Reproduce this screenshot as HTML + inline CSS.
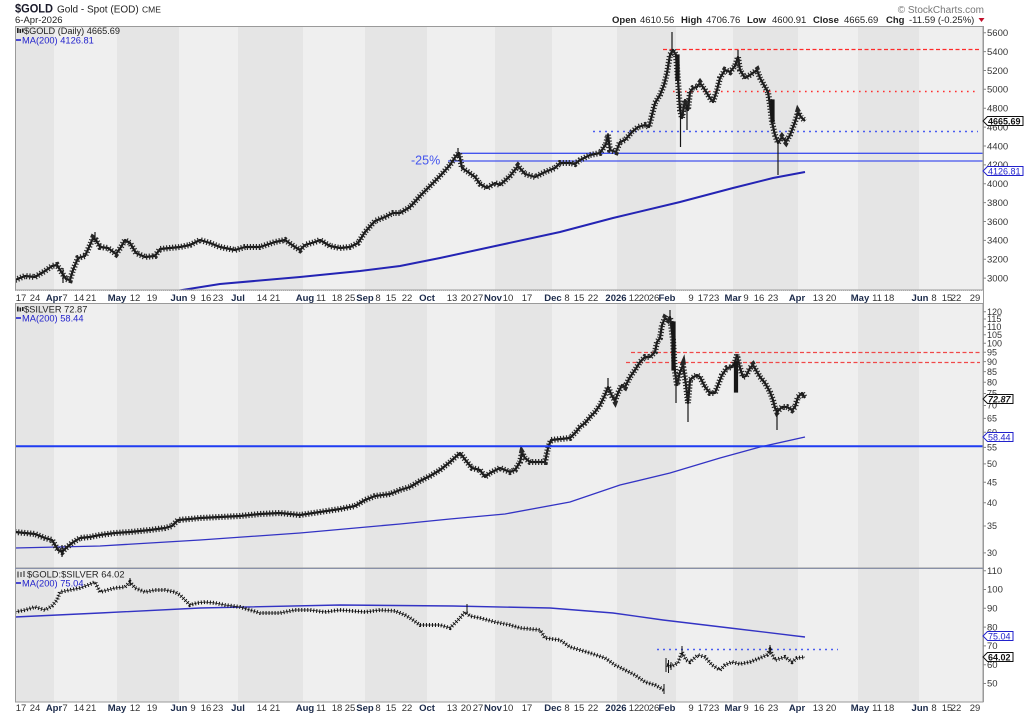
<!DOCTYPE html>
<html><head><meta charset="utf-8">
<style>
html,body{margin:0;padding:0;background:#fff;}
svg{display:block;font-family:"Liberation Sans",Arial,sans-serif;}
.ax{font-size:9.5px;fill:#333;}
.dt{font-size:9.5px;fill:#333;text-anchor:middle;}
.dt .b{font-weight:bold;fill:#1c2b4b;}
.core{fill:none;stroke:#161616;stroke-width:2.2;stroke-linejoin:round;}
.tex{fill:none;stroke:#262626;stroke-width:6;stroke-dasharray:1.2 1.8;}
.rcore{fill:none;stroke:#222;stroke-width:0.7;}
.rtex{fill:none;stroke:#111;stroke-width:4;stroke-dasharray:1 2;}
.wk{stroke:#161616;stroke-width:1.2;}
</style></head>
<body>
<svg width="1024" height="716" viewBox="0 0 1024 716" xmlns="http://www.w3.org/2000/svg">
<defs>
<g id="bands">
<rect x="15" y="0" width="39" height="1" fill="#e5e5e5"/>
<rect x="117" y="0" width="62" height="1" fill="#e5e5e5"/>
<rect x="238" y="0" width="65" height="1" fill="#e5e5e5"/>
<rect x="365" y="0" width="62" height="1" fill="#e5e5e5"/>
<rect x="495" y="0" width="57" height="1" fill="#e5e5e5"/>
<rect x="617" y="0" width="59" height="1" fill="#e5e5e5"/>
<rect x="733" y="0" width="65" height="1" fill="#e5e5e5"/>
<rect x="858" y="0" width="61" height="1" fill="#e5e5e5"/>
</g>
<clipPath id="cg"><rect x="15" y="26" width="968" height="264"/></clipPath>
<clipPath id="cs"><rect x="15" y="303" width="968" height="265"/></clipPath>
<clipPath id="cr"><rect x="15" y="568" width="968" height="134"/></clipPath>
<g id="dates" class="dt">
<text x="21">17</text><text x="35">24</text><text x="54" class="b">Apr</text><text x="65">7</text><text x="79">14</text><text x="91">21</text>
<text x="117" class="b">May</text><text x="135">12</text><text x="152">19</text>
<text x="179" class="b">Jun</text><text x="193">9</text><text x="206">16</text><text x="218">23</text>
<text x="238" class="b">Jul</text><text x="262">14</text><text x="275">21</text>
<text x="305" class="b">Aug</text><text x="321">11</text><text x="337">18</text><text x="350">25</text>
<text x="365" class="b">Sep</text><text x="378">8</text><text x="391">15</text><text x="407">22</text>
<text x="427" class="b">Oct</text><text x="452">13</text><text x="466">20</text><text x="478">27</text>
<text x="493" class="b">Nov</text><text x="508">10</text><text x="527">17</text>
<text x="553" class="b">Dec</text><text x="567">8</text><text x="579">15</text><text x="593">22</text>
<text x="616" class="b">2026</text><text x="634">12</text><text x="644">20</text><text x="654">26</text>
<text x="667" class="b">Feb</text><text x="691">9</text><text x="703">17</text><text x="714">23</text>
<text x="733" class="b">Mar</text><text x="746">9</text><text x="759">16</text><text x="773">23</text>
<text x="797" class="b">Apr</text><text x="818">13</text><text x="831">20</text>
<text x="860" class="b">May</text><text x="877">11</text><text x="889">18</text>
<text x="920" class="b">Jun</text><text x="934">8</text><text x="947">15</text><text x="956">22</text><text x="975">29</text>
</g>
</defs>

<rect width="1024" height="716" fill="#fff"/>

<!-- Header -->
<text x="15" y="12.5" font-size="12" font-weight="bold" fill="#1a1a2a" textLength="38" lengthAdjust="spacingAndGlyphs">$GOLD</text>
<text x="57" y="12.5" font-size="10" fill="#222">Gold - Spot (EOD)</text>
<text x="142" y="12.5" font-size="8.5" fill="#222">CME</text>
<text x="15" y="23" font-size="9.5" fill="#222">6-Apr-2026</text>
<text x="984" y="13" font-size="10" fill="#777" text-anchor="end">© StockCharts.com</text>
<g font-size="9.5" fill="#222">
<text x="612" y="23" font-weight="bold">Open</text><text x="640" y="23">4610.56</text>
<text x="681" y="23" font-weight="bold">High</text><text x="706" y="23">4706.76</text>
<text x="747" y="23" font-weight="bold">Low</text><text x="772" y="23">4600.91</text>
<text x="813" y="23" font-weight="bold">Close</text><text x="844" y="23">4665.69</text>
<text x="886" y="23" font-weight="bold">Chg</text><text x="909" y="23">-11.59 (-0.25%)</text>
</g>
<polygon points="978.5,18 984.5,18 981.5,22" fill="#c0102a"/>

<!-- Panels background -->
<rect x="15" y="26" width="968" height="264" fill="#efefef"/>
<use href="#bands" transform="translate(0,26) scale(1,264)"/>
<rect x="15" y="303" width="968" height="265" fill="#efefef"/>
<use href="#bands" transform="translate(0,303) scale(1,265)"/>
<rect x="15" y="568" width="968" height="134" fill="#efefef"/>
<use href="#bands" transform="translate(0,568) scale(1,134)"/>

<!-- Gold panel -->
<g clip-path="url(#cg)">
<line x1="663" y1="49.5" x2="980" y2="49.5" stroke="#ff2a2a" stroke-width="1.2" stroke-dasharray="4,2.5"/>
<line x1="673" y1="91.5" x2="978" y2="91.5" stroke="#ff3030" stroke-width="1.4" stroke-dasharray="1.6,4.4"/>
<line x1="593" y1="131.5" x2="978" y2="131.5" stroke="#4a5cf0" stroke-width="1.6" stroke-dasharray="2,4"/>
<line x1="457" y1="153.3" x2="983" y2="153.3" stroke="#4455ee" stroke-width="1.3"/>
<line x1="448" y1="161" x2="983" y2="161" stroke="#4455ee" stroke-width="1.3"/>
<polyline fill="none" stroke="#2424b4" stroke-width="2" points="150,294 176,291 220,284 300,277 360,271 400,266 440,258 500,245 560,232 613,218 680,202 733,188 773,178 805,172"/>
<polyline class="core" points="15,280 25,276 35,277 45,271 52,266 57,265 62,273 66,279 70,280 73,270 78,258 85,256 90,245 93,238 96,240 100,247 108,248 116,254 121,247 125,240 130,243 136,253 145,257 155,256 160,249 170,248 180,247 190,245 200,240 210,243 220,247 235,250 245,247 260,247 275,242 285,240 295,247 300,250 305,245 315,242 320,240 330,246 340,248 350,247 358,243 365,232 375,221 385,217 393,213 400,213 410,207 420,196 430,186 440,176 450,165 456,156 459,153 462,168 468,172 475,177 480,184 487,188 495,183 500,185 510,176 518,166 525,174 535,177 545,172 555,168 560,163 570,163 575,164 580,160 590,155 600,153 606,144 608,135 610,150 616,152 620,142 625,140 632,132 638,127 645,125 649,127 652,115 655,103 660,95 664,85 667,73 670,55 673,50 676,55 678,80 680,110 682,118 685,100 688,110 690,92 693,88 697,87 700,83 705,90 710,98 713,102 717,90 720,78 725,70 730,72 735,66 738,57 740,70 745,78 750,75 757,70 760,78 765,87 768,92 770,105 772,122 775,135 778,143 782,137 786,142 790,135 795,122 798,112 801,117 805,121"/>
<polyline class="tex" points="15,280 25,276 35,277 45,271 52,266 57,265 62,273 66,279 70,280 73,270 78,258 85,256 90,245 93,238 96,240 100,247 108,248 116,254 121,247 125,240 130,243 136,253 145,257 155,256 160,249 170,248 180,247 190,245 200,240 210,243 220,247 235,250 245,247 260,247 275,242 285,240 295,247 300,250 305,245 315,242 320,240 330,246 340,248 350,247 358,243 365,232 375,221 385,217 393,213 400,213 410,207 420,196 430,186 440,176 450,165 456,156 459,153 462,168 468,172 475,177 480,184 487,188 495,183 500,185 510,176 518,166 525,174 535,177 545,172 555,168 560,163 570,163 575,164 580,160 590,155 600,153 606,144 608,135 610,150 616,152 620,142 625,140 632,132 638,127 645,125 649,127 652,115 655,103 660,95 664,85 667,73 670,55 673,50 676,55 678,80 680,110 682,118 685,100 688,110 690,92 693,88 697,87 700,83 705,90 710,98 713,102 717,90 720,78 725,70 730,72 735,66 738,57 740,70 745,78 750,75 757,70 760,78 765,87 768,92 770,105 772,122 775,135 778,143 782,137 786,142 790,135 795,122 798,112 801,117 805,121"/>
<g class="wk">
<line x1="672" y1="32" x2="672" y2="55"/><line x1="680.5" y1="105" x2="680.5" y2="147"/><line x1="687" y1="105" x2="687" y2="130"/>
<line x1="778" y1="140" x2="778" y2="175"/><line x1="95" y1="232" x2="95" y2="242"/><line x1="458" y1="148" x2="458" y2="158"/>
<line x1="608" y1="133" x2="608" y2="142"/><line x1="738" y1="50" x2="738" y2="60"/><line x1="63" y1="268" x2="63" y2="283"/>
<rect x="676" y="55" width="3" height="25" fill="#161616"/><rect x="771" y="100" width="3" height="22" fill="#161616"/>
</g>
</g>
<text x="411" y="164.5" font-size="12.5" fill="#4455ee">-25%</text>

<!-- Silver panel -->
<g clip-path="url(#cs)">
<line x1="631" y1="352.5" x2="980" y2="352.5" stroke="#f04848" stroke-width="1.2" stroke-dasharray="4,2.5"/>
<line x1="626" y1="362.5" x2="980" y2="362.5" stroke="#f04848" stroke-width="1.2" stroke-dasharray="4,2.5"/>
<polyline fill="none" stroke="#3333c4" stroke-width="1.3" points="15,548 100,546 200,540 300,533 400,524 450,519 505,514 570,502 620,485 670,473 720,458 760,447 805,437"/>
<polyline class="core" points="15,532 25,533 35,534 45,538 52,540 58,550 62,552 66,548 72,543 80,538 90,537 100,535 115,533 130,532 150,530 165,528 172,526 178,520 190,519 200,518 220,517 240,516 260,514 280,513 300,515 320,512 340,509 355,506 365,500 375,496 390,494 400,490 410,487 420,481 430,476 440,470 450,462 460,453 467,462 472,468 480,470 485,477 490,473 500,468 510,472 515,470 520,462 522,453 525,458 530,462 545,462 548,448 551,440 570,438 575,433 580,427 585,423 590,417 595,412 600,405 605,395 608,387 612,396 615,401 618,393 622,385 625,387 630,377 635,370 640,362 645,357 650,357 655,352 657,342 660,338 662,325 665,318 668,320 670,317 673,340 675,372 677,385 680,372 683,365 686,385 688,403 690,380 692,378 697,375 700,377 705,387 710,393 715,393 718,385 722,375 727,368 732,367 735,362 737,355 740,368 743,377 746,376 750,368 753,365 757,372 760,377 765,383 770,392 773,400 775,408 777,412 782,407 787,407 792,410 795,407 798,397 802,393 805,398"/>
<polyline class="tex" points="15,532 25,533 35,534 45,538 52,540 58,550 62,552 66,548 72,543 80,538 90,537 100,535 115,533 130,532 150,530 165,528 172,526 178,520 190,519 200,518 220,517 240,516 260,514 280,513 300,515 320,512 340,509 355,506 365,500 375,496 390,494 400,490 410,487 420,481 430,476 440,470 450,462 460,453 467,462 472,468 480,470 485,477 490,473 500,468 510,472 515,470 520,462 522,453 525,458 530,462 545,462 548,448 551,440 570,438 575,433 580,427 585,423 590,417 595,412 600,405 605,395 608,387 612,396 615,401 618,393 622,385 625,387 630,377 635,370 640,362 645,357 650,357 655,352 657,342 660,338 662,325 665,318 668,320 670,317 673,340 675,372 677,385 680,372 683,365 686,385 688,403 690,380 692,378 697,375 700,377 705,387 710,393 715,393 718,385 722,375 727,368 732,367 735,362 737,355 740,368 743,377 746,376 750,368 753,365 757,372 760,377 765,383 770,392 773,400 775,408 777,412 782,407 787,407 792,410 795,407 798,397 802,393 805,398"/>
<g class="wk">
<line x1="670" y1="310" x2="670" y2="320"/><line x1="676" y1="380" x2="676" y2="403"/><line x1="688" y1="398" x2="688" y2="422"/>
<line x1="777" y1="408" x2="777" y2="430"/><line x1="608" y1="378" x2="608" y2="390"/><line x1="62" y1="545" x2="62" y2="557"/>
<rect x="672" y="322" width="3" height="48" fill="#161616"/><rect x="734.5" y="362" width="3" height="30" fill="#161616"/>
</g>
<line x1="15" y1="446.3" x2="983" y2="446.3" stroke="#1f3cf2" stroke-width="2"/>
</g>

<!-- Ratio panel -->
<g clip-path="url(#cr)">
<polyline fill="none" stroke="#3333c4" stroke-width="1.4" points="15,617 100,613 200,608 340,605 453,606 550,608 613,613 663,620 730,628 805,637"/>
<line x1="657" y1="649.5" x2="838" y2="649.5" stroke="#4a5cf0" stroke-width="1.6" stroke-dasharray="2,4"/>
<polyline class="rcore" points="15,612 25,610 35,607 45,610 52,606 57,600 60,592 70,590 80,588 88,585 95,582 100,592 115,588 125,587 130,582 135,588 145,592 155,590 165,590 175,592 180,595 185,600 190,605 197,603 205,602 215,603 225,605 240,607 250,610 260,613 280,613 295,610 310,610 325,612 340,610 365,612 380,610 395,611 405,615 410,618 420,625 440,625 450,628 460,618 465,612 470,616 480,618 495,622 510,625 520,628 540,630 545,638 560,640 570,647 590,653 605,658 615,665 625,670 635,675 645,682 655,685 664,690"/>
<polyline class="rtex" points="15,612 25,610 35,607 45,610 52,606 57,600 60,592 70,590 80,588 88,585 95,582 100,592 115,588 125,587 130,582 135,588 145,592 155,590 165,590 175,592 180,595 185,600 190,605 197,603 205,602 215,603 225,605 240,607 250,610 260,613 280,613 295,610 310,610 325,612 340,610 365,612 380,610 395,611 405,615 410,618 420,625 440,625 450,628 460,618 465,612 470,616 480,618 495,622 510,625 520,628 540,630 545,638 560,640 570,647 590,653 605,658 615,665 625,670 635,675 645,682 655,685 664,690"/>
<polyline class="rcore" points="667,665 672,666 678,663 682,652 686,660 690,662 698,655 705,657 712,665 720,670 725,665 732,662 740,664 750,662 760,658 767,655 770,650 775,660 785,657 792,662 797,658 805,657"/>
<polyline class="rtex" points="667,665 672,666 678,663 682,652 686,660 690,662 698,655 705,657 712,665 720,670 725,665 732,662 740,664 750,662 760,658 767,655 770,650 775,660 785,657 792,662 797,658 805,657"/>
<g stroke="#111" stroke-width="1">
<line x1="467" y1="604" x2="467" y2="614"/><line x1="682" y1="646" x2="682" y2="656"/><line x1="770" y1="645" x2="770" y2="655"/>
<line x1="666" y1="658" x2="666" y2="672"/><line x1="668.5" y1="660" x2="668.5" y2="673"/><line x1="671" y1="662" x2="671" y2="670"/>
<line x1="130" y1="578" x2="130" y2="586"/><line x1="664" y1="684" x2="664" y2="694"/>
</g>
</g>

<!-- Panel borders -->
<rect x="15.5" y="26.5" width="967.5" height="263.5" fill="none" stroke="#9a9a9a" stroke-width="1"/>
<rect x="15.5" y="303.5" width="967.5" height="264.5" fill="none" stroke="#9a9a9a" stroke-width="1"/>
<rect x="15.5" y="568.5" width="967.5" height="133.5" fill="none" stroke="#9a9a9a" stroke-width="1"/>
<line x1="15" y1="568.5" x2="983" y2="568.5" stroke="#8890a8" stroke-width="1"/>
<line x1="15" y1="290.5" x2="983" y2="290.5" stroke="#aaa" stroke-width="1" stroke-dasharray="1,1"/>

<!-- Date rows -->
<use href="#dates" transform="translate(0,301)"/>
<use href="#dates" transform="translate(0,711)"/>

<!-- Legends -->
<g>
<rect x="17" y="28" width="1.6" height="5" fill="#222"/><rect x="19.5" y="29" width="1.6" height="4" fill="#222"/><rect x="22" y="28.5" width="1.6" height="4" fill="#222"/>
<text x="24" y="34" font-size="9.3" fill="#222" textLength="96" lengthAdjust="spacingAndGlyphs">$GOLD (Daily) 4665.69</text>
<line x1="16" y1="40" x2="21" y2="40" stroke="#2222cc" stroke-width="1.6"/>
<text x="22" y="43.5" font-size="9.3" fill="#2222cc">MA(200) 4126.81</text>

<rect x="17" y="306.5" width="1.6" height="5" fill="#222"/><rect x="19.5" y="307.5" width="1.6" height="4" fill="#222"/><rect x="22" y="307" width="1.6" height="4" fill="#222"/>
<text x="24" y="312.5" font-size="9.3" fill="#222">$SILVER 72.87</text>
<line x1="16" y1="318" x2="21" y2="318" stroke="#2222cc" stroke-width="1.6"/>
<text x="22" y="321.5" font-size="9.3" fill="#2222cc">MA(200) 58.44</text>

<rect x="17.5" y="571.5" width="1" height="6" fill="#222"/><rect x="20.5" y="572" width="1" height="5" fill="#222"/><rect x="23.5" y="571" width="1" height="6" fill="#222"/>
<text x="27" y="577.5" font-size="9.3" fill="#222">$GOLD:$SILVER 64.02</text>
<line x1="16" y1="583" x2="21" y2="583" stroke="#2222cc" stroke-width="1.6"/>
<text x="22" y="586.5" font-size="9.3" fill="#2222cc">MA(200) 75.04</text>
</g>

<!-- Right axes -->
<line x1="983.5" y1="26" x2="983.5" y2="702" stroke="#9a9a9a" stroke-width="1"/>
<g class="ax">
<text x="987" y="36">5600</text><text x="987" y="54.9">5400</text><text x="987" y="73.8">5200</text><text x="987" y="92.6">5000</text>
<text x="987" y="111.5">4800</text><text x="987" y="130.4">4600</text><text x="987" y="149.3">4400</text><text x="987" y="168.2">4200</text>
<text x="987" y="187">4000</text><text x="987" y="205.9">3800</text><text x="987" y="224.8">3600</text><text x="987" y="243.7">3400</text>
<text x="987" y="262.6">3200</text><text x="987" y="281.4">3000</text>
</g>
<g class="ax">
<text x="987" y="314.9" font-size="9">120</text><text x="987" y="322.2" font-size="9">115</text><text x="987" y="330" font-size="9">110</text><text x="987" y="338" font-size="9">105</text>
<text x="987" y="346.5" font-size="9">100</text><text x="987" y="355.4" font-size="9">95</text><text x="987" y="364.8" font-size="9">90</text><text x="987" y="374.8" font-size="9">85</text>
<text x="987" y="385.4" font-size="9">80</text><text x="987" y="396.7" font-size="9">75</text><text x="987" y="408.7" font-size="9">70</text><text x="987" y="421.6" font-size="9">65</text>
<text x="987" y="435.5" font-size="9">60</text><text x="987" y="450.6" font-size="9">55</text><text x="987" y="467.1" font-size="9">50</text><text x="987" y="485.4" font-size="9">45</text>
<text x="987" y="506" font-size="9">40</text><text x="987" y="529.2" font-size="9">35</text><text x="987" y="556.1" font-size="9">30</text>
</g>
<g class="ax">
<text x="987" y="573.9">110</text><text x="987" y="592.7">100</text><text x="987" y="611.5">90</text><text x="987" y="630.3">80</text>
<text x="987" y="649.1">70</text><text x="987" y="667.9">60</text><text x="987" y="686.7">50</text>
</g>
<path stroke="#888" stroke-width="1" d="M983 32.7H986M983 51.6H986M983 70.5H986M983 89.3H986M983 108.2H986M983 127.1H986M983 146H986M983 164.9H986M983 183.7H986M983 202.6H986M983 221.5H986M983 240.4H986M983 259.3H986M983 278.1H986M983 311.7H986M983 319H986M983 326.8H986M983 334.8H986M983 343.3H986M983 352.2H986M983 361.6H986M983 371.6H986M983 382.2H986M983 393.5H986M983 405.5H986M983 418.4H986M983 432.3H986M983 447.4H986M983 463.9H986M983 482.2H986M983 502.8H986M983 526H986M983 552.9H986M983 570.7H986M983 589.5H986M983 608.3H986M983 627.1H986M983 645.9H986M983 664.7H986M983 683.5H986"/>

<!-- Value boxes -->
<g font-size="9" font-weight="bold">
<polygon points="983,121 987.5,116.5 1023,116.5 1023,125.5 987.5,125.5" fill="#fff" stroke="#111" stroke-width="1"/>
<text x="988" y="124.5" fill="#111">4665.69</text>
<polygon points="983,171 987.5,166.5 1023,166.5 1023,175.5 987.5,175.5" fill="#fff" stroke="#2222cc" stroke-width="1"/>
<text x="988" y="174.5" fill="#2222cc" font-weight="normal">4126.81</text>
<polygon points="983,399 987.5,394.5 1013,394.5 1013,403.5 987.5,403.5" fill="#fff" stroke="#111" stroke-width="1"/>
<text x="988" y="402.5" fill="#111" font-style="italic">72.87</text>
<polygon points="983,437 987.5,432.5 1013,432.5 1013,441.5 987.5,441.5" fill="#fff" stroke="#2222cc" stroke-width="1"/>
<text x="988" y="440.5" fill="#2222cc" font-weight="normal">58.44</text>
<polygon points="983,636 987.5,631.5 1013,631.5 1013,640.5 987.5,640.5" fill="#fff" stroke="#2222cc" stroke-width="1"/>
<text x="988" y="639.5" fill="#2222cc" font-weight="normal">75.04</text>
<polygon points="983,657 987.5,652.5 1013,652.5 1013,661.5 987.5,661.5" fill="#fff" stroke="#111" stroke-width="1"/>
<text x="988" y="660.5" fill="#111">64.02</text>
</g>
</svg>
</body></html>
